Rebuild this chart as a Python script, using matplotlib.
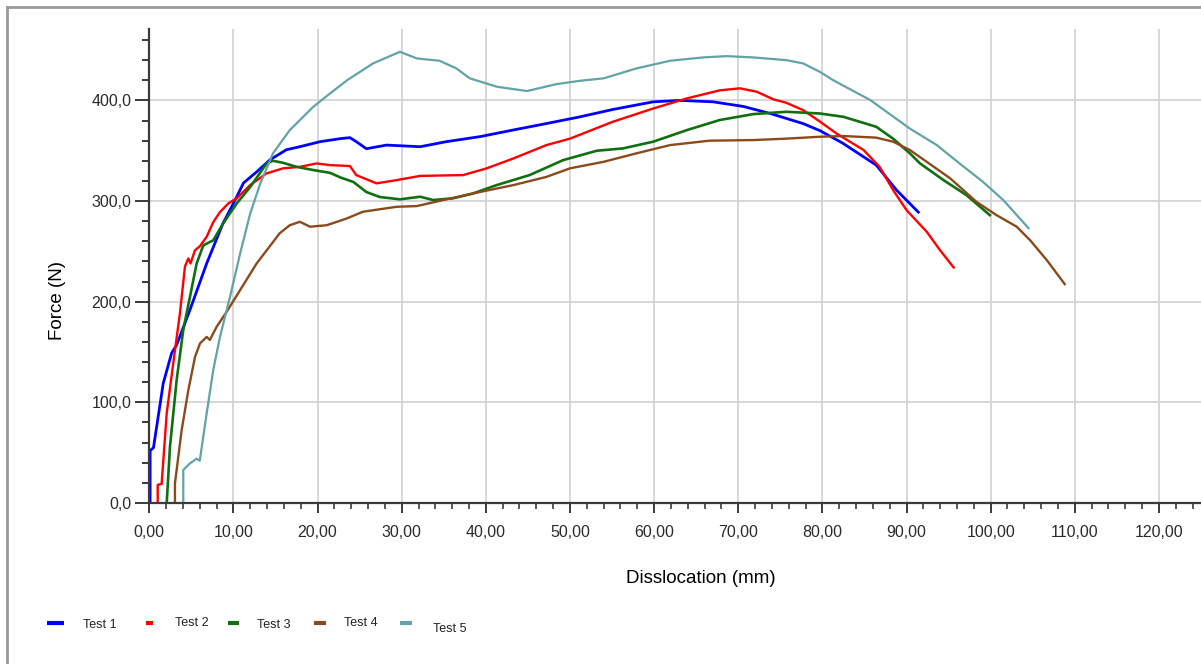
import matplotlib
matplotlib.use("Agg")
import matplotlib.pyplot as plt
from matplotlib.lines import Line2D
from matplotlib.ticker import MultipleLocator, FuncFormatter

# Force vs dislocation for five pull-out tests
t1_x = [0.1, 0.1, 0.5, 1.66, 2.66, 3.25, 4.84, 6.82, 8.77, 10.2, 11.2, 12.76, 14.35, 16.3, 17.9, 20.3,
        22.7, 23.85, 24.6, 25.8, 28.2, 32.2, 35.3, 39.3, 43.2, 47.2, 51.2, 55.1, 59.9, 63.1, 67.0,
        70.6, 73.8, 77.7, 79.7, 82.4, 86.4, 88.8, 91.4]
t1_y = [0, 52, 55, 119, 149, 157, 192, 238, 278, 301, 318, 329, 341, 351, 354, 359,
        362, 363, 359, 352, 355.6, 354, 359, 364, 370.5, 377, 383.7, 391, 398.6, 400, 398.6,
        394, 387, 377, 370, 357.6, 335.7, 311, 289]

t2_x = [1.0, 1.0, 1.47, 2.07, 2.85, 3.65, 4.24, 4.64, 4.9, 5.43, 6.0, 6.82, 7.6, 8.4, 9.4, 10.4,
        12.0, 13.95, 15.9, 17.9, 19.9, 21.5, 23.85, 24.6, 27.0, 29.4, 32.2, 37.3, 40.1, 43.3, 47.2,
        50.0, 55.1, 59.9, 63.9, 67.8, 70.2, 72.2, 74.2, 75.7, 77.7, 79.7, 81.7, 84.9, 86.8, 88.4,
        90.0, 92.4, 94.0, 95.6]
t2_y = [0, 18, 19, 89, 139, 189, 235, 243, 238, 251, 255, 264.5, 279, 289, 297.7, 302.7,
        316, 327.5, 332.5, 334, 337.4, 335.7, 334.8, 325.8, 317.6, 320.8, 325, 325.8, 332.5, 342.4, 355.6,
        362, 378.8, 392, 402, 410, 412, 408.6, 401, 397.7, 390.4, 379, 367, 350.7, 334, 311,
        291, 269.5, 251, 234]

t3_x = [2.07, 2.46, 3.25, 4.04, 4.84, 5.63, 6.42, 7.6, 8.8, 10.4, 12.0, 13.95, 14.7, 15.9, 17.5,
        19.5, 21.5, 22.7, 24.25, 25.8, 27.4, 29.8, 32.2, 33.75, 36.1, 38.5, 41.3, 45.2, 49.2, 53.2,
        56.3, 59.9, 63.9, 67.8, 71.8, 75.7, 79.7, 82.5, 86.4, 88.4, 90.4, 91.6, 94.4, 97.1, 99.9]
t3_y = [0, 56, 122, 172, 205, 238, 256, 261, 278, 297.7, 314, 337.4, 340, 338, 334,
        330.8, 328, 323.5, 319, 309, 304, 301.7, 304.3, 301, 302.7, 307.6, 315.9, 325.8, 340.7, 350,
        352.3, 359, 370.5, 380.5, 386.4, 388.7, 387, 383.7, 373.8, 362, 347.4, 337.4, 320.8, 306, 286]

t4_x = [3.05, 3.05, 3.85, 4.64, 5.43, 6.03, 6.82, 7.2, 8.0, 9.2, 10.8, 12.76, 13.95, 15.5, 16.7,
        17.9, 19.1, 21.1, 23.5, 25.4, 29.4, 31.8, 35.3, 39.3, 43.3, 47.2, 50.0, 54.0, 57.9, 61.9,
        66.6, 71.8, 75.7, 79.7, 82.5, 86.4, 88.4, 90.4, 92.4, 95.2, 98.3, 100.7, 103.1, 104.7,
        106.7, 108.8]
t4_y = [0, 19.5, 72.5, 112, 145, 158.6, 165, 162, 175, 190, 211.6, 238, 251, 268, 276,
        279.4, 274.5, 276, 282.8, 289.4, 294.3, 295, 301.7, 309, 315.9, 324, 332.5, 339, 347.4, 355.6,
        360, 360.6, 362, 363.9, 364.6, 363, 359, 350.7, 339, 322.5, 299.3, 286, 274.5, 261,
        241, 217.5]

t5_x = [4.04, 4.04, 4.84, 5.63, 6.0, 6.82, 7.6, 8.4, 9.6, 10.8, 12.0, 13.2, 14.7, 16.7, 19.5,
        21.5, 23.5, 26.6, 29.8, 31.8, 34.5, 36.5, 38.1, 41.3, 44.9, 48.4, 51.2, 54.0, 57.9, 61.9,
        65.8, 68.6, 71.8, 75.7, 77.7, 79.7, 81.3, 85.7, 90.4, 93.6, 96.3, 99.1, 101.5, 104.5]
t5_y = [0, 32.8, 39.4, 44, 42, 89, 132, 165, 205, 248, 287.8, 317.6, 347.4, 370.5, 393.7,
        407, 420, 436.8, 448.3, 441.7, 439.4, 431.8, 421.9, 413.6, 409.3, 416.2, 419.5, 421.9, 431.8, 439.4,
        442.7, 444, 442.7, 440, 436.8, 428.4, 420, 400.3, 372, 355.6, 337.4, 319, 301, 273]

names = ["Test 1", "Test 2", "Test 3", "Test 4", "Test 5"]
colors = ["#0000ff", "#ff0000", "#107010", "#8b4a1c", "#62a3a5"]
series = [(t1_x, t1_y), (t2_x, t2_y), (t3_x, t3_y), (t4_x, t4_y), (t5_x, t5_y)]

tick_font = ["Liberation Sans", "DejaVu Sans"]
label_font = ["Liberation Sans", "DejaVu Sans"]

fig = plt.figure(figsize=(12.01, 6.64), dpi=100)
ax = fig.add_axes([0.1243, 0.2425, 0.8757, 0.7139])

for (xs, ys), c, lw in zip(series, colors, [2.0, 1.7, 1.9, 1.7, 1.6]):
    ax.plot(xs, ys, color=c, lw=lw, solid_joinstyle="round")

ax.set_xlim(0, 125)
ax.set_ylim(0, 471)
ax.xaxis.set_major_locator(MultipleLocator(10))
ax.xaxis.set_minor_locator(MultipleLocator(2))
ax.yaxis.set_major_locator(MultipleLocator(100))
ax.yaxis.set_minor_locator(MultipleLocator(20))
ax.xaxis.set_major_formatter(FuncFormatter(lambda v, p: f"{v:.2f}".replace(".", ",")))
ax.yaxis.set_major_formatter(FuncFormatter(lambda v, p: f"{v:.1f}".replace(".", ",")))

ax.grid(True, which="major", color="#d4d4d4", lw=1.3)
ax.set_axisbelow(True)
for s in ["top", "right"]:
    ax.spines[s].set_visible(False)
for s in ["left", "bottom"]:
    ax.spines[s].set_color("#3a3a3a")
    ax.spines[s].set_linewidth(1.6)

ax.tick_params(axis="y", which="major", length=10, width=1.4, color="#3a3a3a", pad=3)
ax.tick_params(axis="y", which="minor", length=5, width=1.4, color="#3a3a3a")
ax.tick_params(axis="x", which="major", length=7, width=1.4, color="#3a3a3a", pad=9)
ax.tick_params(axis="x", which="minor", length=4, width=1.2, color="#3a3a3a")
for lab in ax.get_xticklabels() + ax.get_yticklabels():
    lab.set_family(tick_font)
    lab.set_fontsize(11.5)
    lab.set_color("#2b2b2b")

fig.text(0.0475, 0.548, "Force (N)", rotation=90, ha="center", va="center",
         fontsize=13.5, family=label_font)
fig.text(0.5836, 0.1295, "Disslocation (mm)", ha="center", va="center",
         fontsize=13.5, family=label_font)

# legend row drawn by hand along the bottom
H = 664.0
W = 1201.0
handle_px = [(47, 64), (146, 153), (228, 239), (314, 326), (400, 412)]
text_px = [(83, 625), (175, 623), (257, 625), (344, 623), (433, 629)]
for name, c, (x0, x1), (tx, ty) in zip(names, colors, handle_px, text_px):
    fig.add_artist(Line2D([x0 / W, x1 / W], [1 - 623 / H, 1 - 623 / H], color=c, lw=3,
                          solid_capstyle="butt"))
    fig.text(tx / W, 1 - ty / H, name, ha="left", va="center", fontsize=9,
             family=label_font, color="#222222")

# outer frame (left and top edges)
fig.add_artist(Line2D([7 / W, 7 / W], [0, 1 - 7 / H], color="#9a9a9a", lw=2))
fig.add_artist(Line2D([7 / W, 1], [1 - 7 / H, 1 - 7 / H], color="#9a9a9a", lw=2))

fig.savefig("out.png", dpi=100, facecolor="white")
